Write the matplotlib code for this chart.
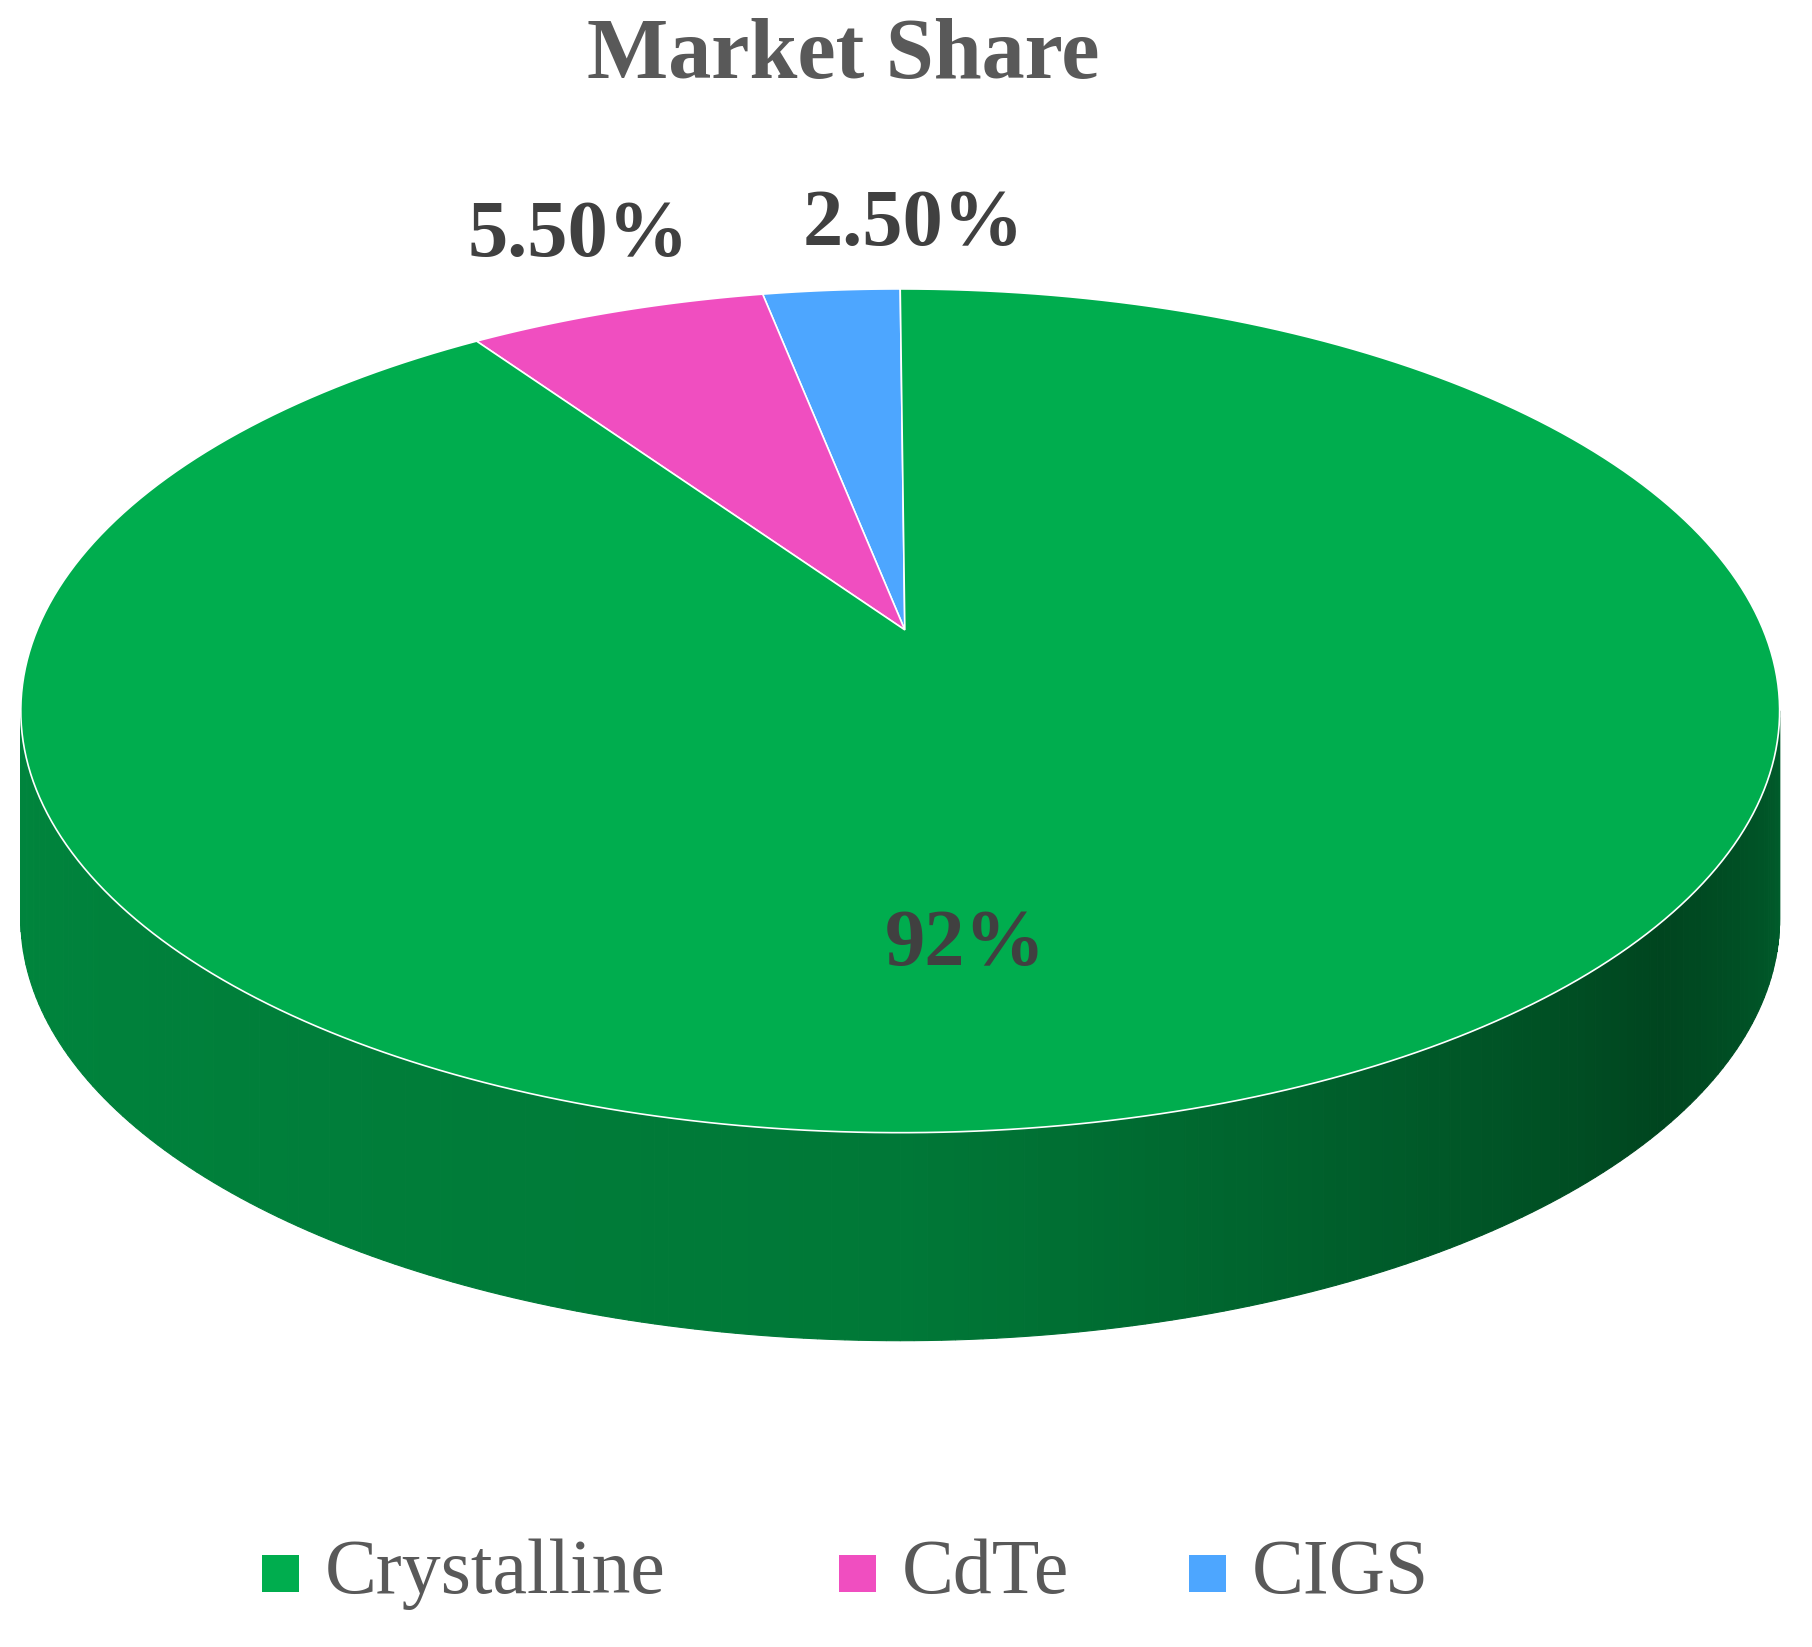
import numpy as np
import matplotlib
matplotlib.use("Agg")
import matplotlib.pyplot as plt
from matplotlib.patches import Polygon, Rectangle

categories = ["CIGS", "CdTe", "Crystalline"]
values = [2.5, 5.5, 92.0]
labels = ["2.50%", "5.50%", "92%"]
colors = ["#4da6ff", "#f04ec0", "#00ad4e"]
legend_order = ["Crystalline", "CdTe", "CIGS"]

W, H = 1568, 1425
fig = plt.figure(figsize=(18.12, 16.47), dpi=100)
ax = fig.add_axes([0, 0, 1, 1])
ax.set_xlim(0, W); ax.set_ylim(H, 0); ax.axis("off")

cx, cy, a, b, depth = 779, 615, 761, 365, 180
ax_x, ax_y = 783, 545  # apex

def pt(t):
    return cx + a*np.cos(np.radians(t)), cy - b*np.sin(np.radians(t))

# side band (front half: angles 180 -> 360), gradient
n = 200
ts = np.linspace(180, 360, n+1)
def side_col(f):
    stops = [(0, (0, 0x85, 0x3d)), (0.5, (0, 0x78, 0x37)), (0.83, (0, 0x45, 0x1f)), (1.0, (0, 0x5e, 0x2c))]
    for (f0, c0), (f1, c1) in zip(stops[:-1], stops[1:]):
        if f <= f1:
            u = (f - f0)/(f1 - f0)
            return tuple((c0[i] + u*(c1[i]-c0[i]))/255 for i in range(3))
    return tuple(c/255 for c in stops[-1][1])
for i in range(n):
    x0, y0 = pt(ts[i]); x1, y1 = pt(ts[i+1])
    ax.add_patch(Polygon([(x0, y0), (x1, y1), (x1, y1+depth), (x0, y0+depth)],
                         closed=True, fc=side_col(i/n), ec=side_col(i/n), lw=0.8))

# top wedges (counterclockwise from 90)
start = 90.0
total = sum(values)
mids = []
for v, c in zip(values, colors):
    end = start + 360*v/total
    tt = np.linspace(start, end, 300)
    pts = [(ax_x, ax_y)] + [pt(t) for t in tt]
    ax.add_patch(Polygon(pts, closed=True, fc=c, ec="white", lw=1.2, zorder=3))
    mids.append((start+end)/2)
    start = end

serif = ["Liberation Serif", "DejaVu Serif"]
ax.text(730, 50, "Market Share", ha="center", va="center", fontsize=62,
        fontweight="bold", color="#595959", family=serif)
pos = [(790, 195), (500, 205), (835, 818)]
for (x, y), l in zip(pos, labels):
    ax.text(x, y, l, ha="center", va="center", fontsize=58, fontweight="bold",
            color="#404040", family=serif, zorder=5)

leg_x = {"Crystalline": 243, "CdTe": 742, "CIGS": 1045}
for name in legend_order:
    c = colors[categories.index(name)]
    x = leg_x[name]
    ax.add_patch(Rectangle((x-16, 1345), 32, 32, fc=c, ec="none"))
    ax.text(x+38, 1362, name, ha="left", va="center", fontsize=56,
            color="#595959", family=serif)

fig.savefig("out.png", dpi=100)
